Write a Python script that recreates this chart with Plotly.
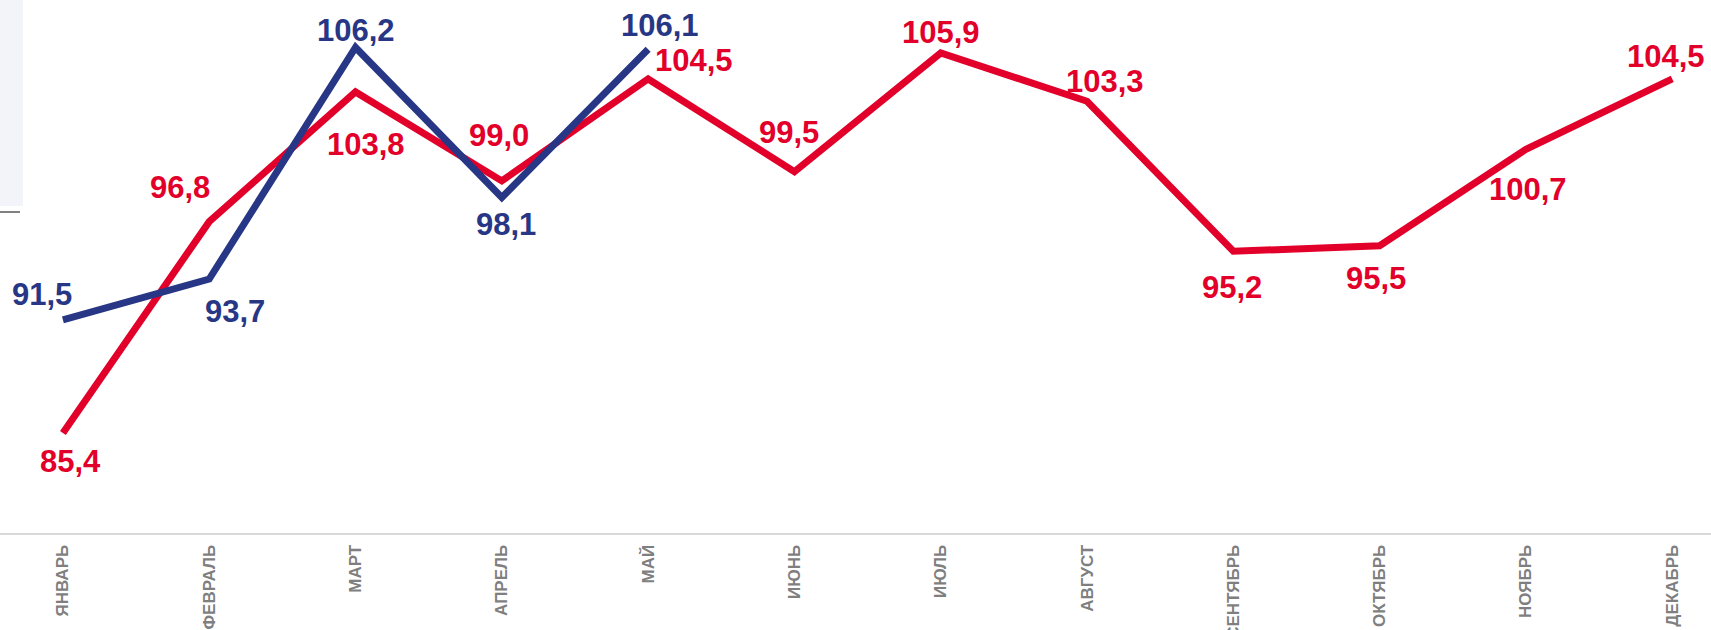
import plotly.graph_objects as go

months = ["ЯНВАРЬ", "ФЕВРАЛЬ", "МАРТ", "АПРЕЛЬ", "МАЙ", "ИЮНЬ", "ИЮЛЬ",
          "АВГУСТ", "СЕНТЯБРЬ", "ОКТЯБРЬ", "НОЯБРЬ", "ДЕКАБРЬ"]
red_values = [85.4, 96.8, 103.8, 99.0, 104.5, 99.5, 105.9, 103.3, 95.2, 95.5, 100.7, 104.5]
blue_values = [91.5, 93.7, 106.2, 98.1, 106.1]

RED = "#e2002a"
BLUE = "#283785"

# label offsets in pixels (xshift, yshift) per point
red_shift = [(8, -29), (-29, 34), (10, -53), (-3, 45), (46, 18), (-5, 39),
             (0, 21), (18, 20), (-1, -36), (-4, -33), (2, -40), (-6, 22)]
blue_shift = [(-21, 25), (26, -32), (0, 17), (4, -27), (12, 24)]

x_idx = list(range(len(months)))

fig = go.Figure()
fig.add_trace(go.Scatter(x=x_idx, y=red_values, mode="lines",
                         line=dict(color=RED, width=7), cliponaxis=False,
                         hoverinfo="skip", showlegend=False))
fig.add_trace(go.Scatter(x=x_idx[:len(blue_values)], y=blue_values, mode="lines",
                         line=dict(color=BLUE, width=7), cliponaxis=False,
                         hoverinfo="skip", showlegend=False))

def fmt(v):
    return f"{v:.1f}".replace(".", ",")

for i, v in enumerate(red_values):
    dx, dy = red_shift[i]
    fig.add_annotation(x=i, y=v, text="<b>" + fmt(v) + "</b>", showarrow=False, xshift=dx, yshift=dy,
                       font=dict(family="Liberation Sans, Arial, sans-serif", size=31, color=RED),
                       xanchor="center", yanchor="middle")
for i, v in enumerate(blue_values):
    dx, dy = blue_shift[i]
    fig.add_annotation(x=i, y=v, text="<b>" + fmt(v) + "</b>", showarrow=False, xshift=dx, yshift=dy,
                       font=dict(family="Liberation Sans, Arial, sans-serif", size=31, color=BLUE),
                       xanchor="center", yanchor="middle")

fig.add_shape(type="rect", xref="paper", yref="paper", x0=0, x1=23/1711, y0=1-206/533, y1=1,
              fillcolor="#f3f4f9", line=dict(width=0), layer="below")
fig.add_shape(type="line", xref="paper", yref="paper", x0=0, x1=20/1711, y0=1-212/533, y1=1-212/533,
              line=dict(color="#808080", width=2))

fig.update_layout(
    width=1711, height=630,
    margin=dict(l=0, r=0, t=0, b=97, autoexpand=False),
    plot_bgcolor="white", paper_bgcolor="white",
    xaxis=dict(range=[-0.43, 11.265], tickmode="array", tickvals=x_idx,
               ticktext=["<b>" + m + "</b>" for m in months], tickangle=-90,
               showgrid=False, zeroline=False, showline=True, linecolor="#d9d9d9", linewidth=2,
               ticks="", ticklabelstandoff=3, automargin=False,
               tickfont=dict(family="Liberation Sans Narrow, Arial Narrow, Liberation Sans, Arial", size=17, color="#7f7f7f")),
    yaxis=dict(range=[80, 108.76], visible=False, showgrid=False, zeroline=False, automargin=False),
)

fig.write_html("out.html", config={"displayModeBar": False, "staticPlot": True},
               post_script="document.body.style.margin='0';document.body.style.overflow='hidden';")
